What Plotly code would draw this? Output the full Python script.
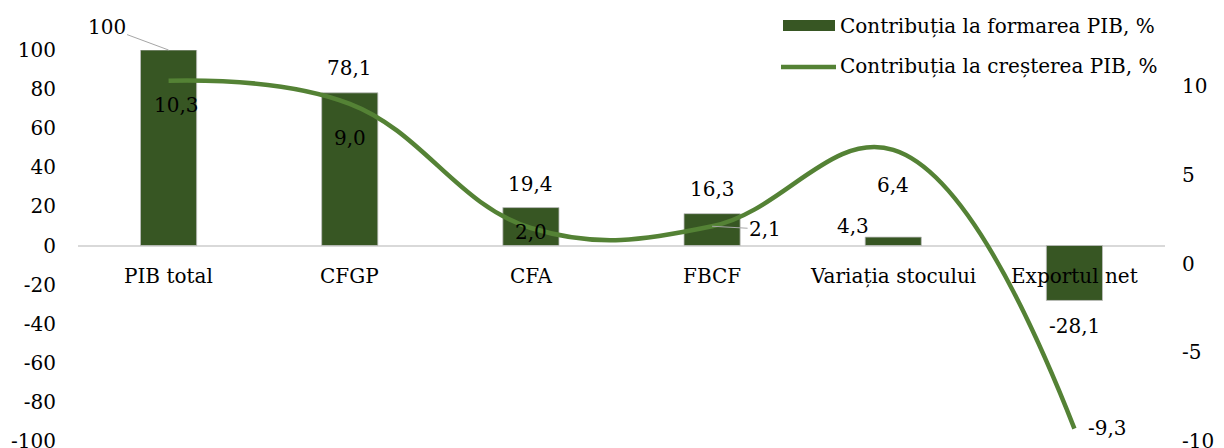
import plotly.graph_objects as go

# --- data ---
categories = ["PIB total", "CFGP", "CFA", "FBCF", "Variația stocului", "Exportul net"]
formare_pib = [100, 78.1, 19.4, 16.3, 4.3, -28.1]
crestere_pib = [10.3, 9.0, 2.0, 2.1, 6.4, -9.3]
left_ticks = [-100, -80, -60, -40, -20, 0, 20, 40, 60, 80, 100]
right_ticks = [-10, -5, 0, 5, 10]
bar_name = "Contribuția la formarea PIB, %"
line_name = "Contribuția la creșterea PIB, %"

BAR_COLOR = "#375623"
LINE_COLOR = "#548235"
FONT = "DejaVu Serif"
FS = 20

# page body has an 8px margin, so the figure is drawn a bit smaller
OFF = 8
W, H = 1224 - OFF, 448 - OFF
# plot area in screen pixels: x 78..1165, y 50..441
ML, MT = 78 - OFF, 50 - OFF
MR, MB = W - (1165 - OFF), H - (441 - OFF)


def px_x(px):
    return (px - OFF - ML) / (W - ML - MR)


def px_y(py):
    return (H - MB - (py - OFF)) / (H - MT - MB)


def fmt(v):
    if float(v).is_integer() and abs(v) >= 100:
        return str(int(v))
    return f"{v:.1f}".replace(".", ",")


txt = dict(family=FONT, size=FS, color="black")

fig = go.Figure()

fig.add_trace(go.Bar(
    x=categories, y=formare_pib, name=bar_name,
    marker=dict(color=BAR_COLOR, line=dict(color="#bfbfbf", width=0.8)),
    width=0.31, showlegend=False, hoverinfo="skip",
))

fig.add_trace(go.Scatter(
    x=categories, y=crestere_pib, name=line_name, yaxis="y2",
    mode="lines", line=dict(color=LINE_COLOR, width=4.5, shape="spline", smoothing=1.15),
    showlegend=False, hoverinfo="skip",
))

annotations = []

# category labels sit next to the zero line
for c in categories:
    annotations.append(dict(x=c, y=0, xref="x", yref="y", text=c, showarrow=False,
                            yshift=-30, font=txt))

# bar data labels (offsets in px: dx, dy)
bar_offsets = [(-62, -23), (0, 25), (0, 24), (0, 25), (-40, 11), (0, -26)]
for i, (c, v) in enumerate(zip(categories, formare_pib)):
    dx, dy = bar_offsets[i]
    if i == 0:
        annotations.append(dict(x=c, y=v, xref="x", yref="y", text=fmt(v),
                                showarrow=True, arrowhead=0, arrowwidth=1, arrowcolor="#a6a6a6",
                                ax=dx, ay=dy, font=txt))
    else:
        annotations.append(dict(x=c, y=v, xref="x", yref="y", text=fmt(v), showarrow=False,
                                xshift=dx, yshift=dy, font=txt))

# line data labels
line_offsets = [(8, -24), (0, -34), (0, -4), (53, -3), (0, -35), (33, 1)]
for i, (c, v) in enumerate(zip(categories, crestere_pib)):
    dx, dy = line_offsets[i]
    if i == 3:
        annotations.append(dict(x=c, y=v, xref="x", yref="y2", text=fmt(v),
                                showarrow=True, arrowhead=0, arrowwidth=1, arrowcolor="#a6a6a6",
                                ax=dx, ay=-dy, font=txt))
    else:
        annotations.append(dict(x=c, y=v, xref="x", yref="y2", text=fmt(v), showarrow=False,
                                xshift=dx, yshift=dy, font=txt))

# legend, drawn by hand to get Excel-like keys
shapes = [
    dict(type="rect", xref="paper", yref="paper", x0=px_x(783), x1=px_x(835),
         y0=px_y(31), y1=px_y(20), fillcolor=BAR_COLOR, line=dict(width=0)),
    dict(type="line", xref="paper", yref="paper", x0=px_x(781), x1=px_x(836),
         y0=px_y(67), y1=px_y(67), line=dict(color=LINE_COLOR, width=4.5)),
]
for name, py in [(bar_name, 26), (line_name, 66)]:
    annotations.append(dict(x=px_x(838), y=px_y(py), xref="paper", yref="paper", text=name,
                            showarrow=False, xanchor="left", yanchor="middle", font=txt))

fig.update_layout(
    width=W, height=H,
    margin=dict(l=ML, r=MR, t=MT, b=MB, autoexpand=False),
    paper_bgcolor="white", plot_bgcolor="white",
    font=txt,
    xaxis=dict(range=[-0.5, 5.5], showticklabels=False, showgrid=False, zeroline=False,
               showline=False, automargin=False),
    yaxis=dict(range=[-100, 100], tickvals=left_ticks, ticktext=[str(t) for t in left_ticks],
               showgrid=False, zeroline=True, zerolinecolor="#d9d9d9", zerolinewidth=2,
               ticks="", ticklabelstandoff=21, ticklabeloverflow="allow", tickfont=txt,
               automargin=False),
    yaxis2=dict(range=[-10, 12.03], tickvals=right_ticks, ticktext=[str(t) for t in right_ticks],
                overlaying="y", side="right", showgrid=False, zeroline=False, ticks="",
                ticklabelstandoff=16, ticklabeloverflow="allow", tickfont=txt,
                automargin=False),
    annotations=annotations,
    shapes=shapes,
    showlegend=False,
)

fig.write_html("out.html")
